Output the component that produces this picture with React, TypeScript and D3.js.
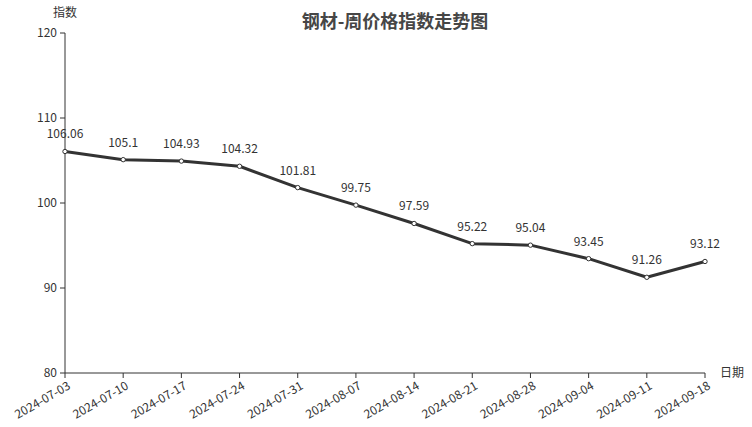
import React from "react";
import * as d3 from "d3";

const dates = ["2024-07-03","2024-07-10","2024-07-17","2024-07-24","2024-07-31","2024-08-07","2024-08-14","2024-08-21","2024-08-28","2024-09-04","2024-09-11","2024-09-18"];
const values = [106.06,105.1,104.93,104.32,101.81,99.75,97.59,95.22,95.04,93.45,91.26,93.12];
const yTicks = [80,90,100,110,120];
const title = "钢材-周价格指数走势图";

const W = 752, H = 427;
const font = "'Noto Sans CJK SC', 'Noto Sans', sans-serif";

export default function App() {
  const x = d3.scalePoint<string>().domain(dates).range([65, 705]);
  const y = d3.scaleLinear().domain([80, 120]).range([373, 33]);
  const line = d3.line<number>().x((_, i) => x(dates[i])!).y(d => y(d));
  const c = "#333";
  return (
    <svg width={W} height={H} style={{ position: "absolute", left: 0, top: 0, background: "#fff", fontFamily: font }}>
      <text x={395} y={28} textAnchor="middle" fontSize={18} fontWeight="bold" fill="#464646">{title}</text>
      <text x={65} y={17} textAnchor="middle" fontSize={12} fill={c}>指数</text>
      <text x={720} y={377} textAnchor="start" fontSize={12} fill={c}>日期</text>
      <line x1={65} x2={65} y1={33} y2={373} stroke={c} strokeWidth={1} />
      {yTicks.map(t => (
        <g key={t}>
          <line x1={60} x2={65} y1={y(t)} y2={y(t)} stroke={c} />
          <text x={57} y={y(t)} dy="0.35em" textAnchor="end" fontSize={12} fill={c}>{t}</text>
        </g>
      ))}
      <line x1={65} x2={705} y1={373} y2={373} stroke={c} strokeWidth={1} />
      {dates.map(d => (
        <g key={d}>
          <line x1={x(d)} x2={x(d)} y1={373} y2={378} stroke={c} />
          <text transform={`translate(${x(d)! + 2},${381}) rotate(-30)`} dy="0.7em" textAnchor="end" fontSize={12} fill={c}>{d}</text>
        </g>
      ))}
      <path d={line(values)!} fill="none" stroke={c} strokeWidth={3} strokeLinejoin="round" />
      {values.map((v, i) => (
        <g key={i}>
          <circle cx={x(dates[i])} cy={y(v)} r={2.2} fill="#fff" stroke={c} strokeWidth={1} />
          <text x={x(dates[i])} y={y(v) - 13} textAnchor="middle" fontSize={12} fill={c}>{v}</text>
        </g>
      ))}
    </svg>
  );
}
